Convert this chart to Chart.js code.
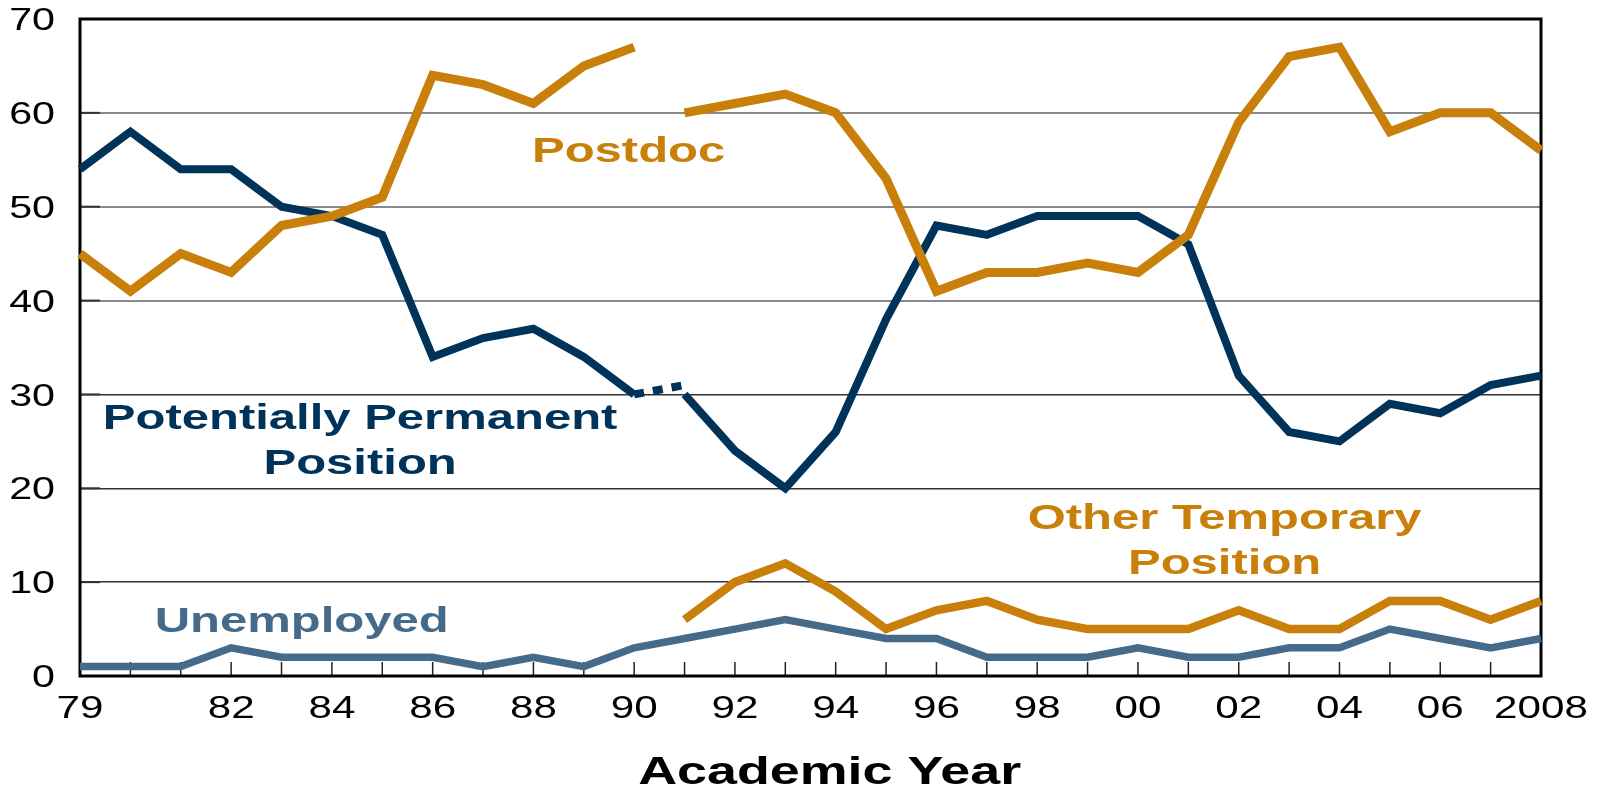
<!DOCTYPE html>
<html>
<head>
<meta charset="utf-8">
<script src="https://cdn.jsdelivr.net/npm/chart.js@4.4.1/dist/chart.umd.min.js"></script>
<style>
  html, body { margin: 0; padding: 0; background: #fff; }
  #wrap { width: 1599px; height: 790px; position: relative; }
</style>
</head>
<body>
<div id="wrap"><canvas id="careerChart"></canvas></div>
<script>
// academic years on the x axis
const years = [1979, 1980, 1981, 1982, 1983, 1984, 1985, 1986, 1987, 1988, 1989, 1990,
               1991, 1992, 1993, 1994, 1995, 1996, 1997, 1998, 1999, 2000, 2001, 2002,
               2003, 2004, 2005, 2006, 2007, 2008];
const xTickLabels = ['79', '', '', '82', '', '84', '', '86', '', '88', '', '90',
                     '', '92', '', '94', '', '96', '', '98', '', '00', '', '02',
                     '', '04', '', '06', '', '2008'];
const yTicks = [0, 10, 20, 30, 40, 50, 60, 70];

// percent of recent PhDs in each position
const postdoc   = [45, 41, 45, 43, 48, 49, 51, 64, 63, 61, 65, 67,
                   60, 61, 62, 60, 53, 41, 43, 43, 44, 43, 47, 59, 66, 67, 58, 60, 60, 56];
const permanent = [54, 58, 54, 54, 50, 49, 47, 34, 36, 37, 34, 30,
                   30, 24, 20, 26, 38, 48, 47, 49, 49, 49, 46, 32, 26, 25, 29, 28, 31, 32];
// dotted link across the 1990/1991 survey break
const permanentBridge = [null, null, null, null, null, null, null, null, null, null, null, 30,
                         31, null, null, null, null, null, null, null, null, null, null, null,
                         null, null, null, null, null, null];
const otherTemp = [null, null, null, null, null, null, null, null, null, null, null, null,
                   6, 10, 12, 9, 5, 7, 8, 6, 5, 5, 5, 7, 5, 5, 8, 8, 6, 8];
const unemployed = [1, 1, 1, 3, 2, 2, 2, 2, 1, 2, 1, 3,
                    4, 5, 6, 5, 4, 4, 2, 2, 2, 3, 2, 2, 3, 3, 5, 4, 3, 4];

const ORANGE = '#c8800a';
const NAVY = '#003359';
const SLATE = '#456a8a';
const BREAK_INDEX = 11; // segment 1990 -> 1991

const FONT = "'Liberation Sans', Arial, sans-serif";

// in-chart series captions, anchored in data units (year, percent)
const notes = [
    { lines: ['Postdoc'], year: 1989.89, value: 56.15, color: ORANGE },
    { lines: ['Potentially Permanent', 'Position'], year: 1984.56, value: 25.3, color: NAVY },
    { lines: ['Other Temporary', 'Position'], year: 2001.72, value: 14.6, color: ORANGE },
    { lines: ['Unemployed'], year: 1983.4, value: 6.07, color: SLATE }
];

// the original artwork is horizontally stretched, so text is drawn scaled in x.
// y is the vertical centre of the capitals.
function stretchText(ctx, text, x, y, size, weight, color, align, sx) {
    ctx.save();
    ctx.font = weight + ' ' + size + 'px ' + FONT;
    ctx.fillStyle = color;
    ctx.textAlign = align;
    ctx.textBaseline = 'alphabetic';
    ctx.translate(x, y + size * 0.716 / 2);
    ctx.scale(sx, 1);
    ctx.fillText(text, 0, 0);
    ctx.restore();
}

const extras = {
    id: 'extras',
    beforeDatasetsDraw(chart) {
        const { ctx, chartArea: a, scales } = chart;
        ctx.save();
        // inner tick marks on the year axis
        ctx.strokeStyle = '#222';
        ctx.lineWidth = 1.5;
        years.forEach((yr, i) => {
            const px = scales.x.getPixelForValue(i);
            ctx.beginPath();
            ctx.moveTo(px, a.bottom);
            ctx.lineTo(px, a.bottom - 14);
            ctx.stroke();
        });
        // short dark ticks on the left axis
        ctx.lineWidth = 2;
        ctx.strokeStyle = '#333';
        yTicks.forEach(v => {
            const py = scales.y.getPixelForValue(v);
            ctx.beginPath();
            ctx.moveTo(a.left, py);
            ctx.lineTo(a.left + 20, py);
            ctx.stroke();
        });
        // frame
        ctx.lineWidth = 3;
        ctx.strokeStyle = '#000';
        ctx.strokeRect(a.left, a.top, a.right - a.left, a.bottom - a.top);
        ctx.restore();
    },
    afterDraw(chart) {
        const { ctx, chartArea: a, scales } = chart;
        const xs = scales.x, ys = scales.y;

        yTicks.forEach(v => {
            stretchText(ctx, String(v), a.left - 25, ys.getPixelForValue(v),
                        31, 'normal', '#000', 'right', 1.33);
        });
        xTickLabels.forEach((lab, i) => {
            if (!lab) return;
            stretchText(ctx, lab, xs.getPixelForValue(i), a.bottom + 31,
                        31, 'normal', '#000', 'center', 1.36);
        });

        notes.forEach(n => {
            const cx = xs.getPixelForValue(n.year - years[0]);
            const cy = ys.getPixelForValue(n.value);
            const lh = 45;
            const top = cy - (n.lines.length - 1) * lh / 2;
            n.lines.forEach((line, k) => {
                stretchText(ctx, line, cx, top + k * lh, 35, 'bold', n.color, 'center', 1.4);
            });
        });

        stretchText(ctx, 'Academic Year', xs.getPixelForValue(1993.88 - years[0]), 770,
                    39, 'bold', '#000', 'center', 1.38);
    }
};

document.addEventListener('DOMContentLoaded', function() {
    const ctx = document.getElementById('careerChart');

    new Chart(ctx, {
        type: 'line',
        data: {
            labels: years.map(String),
            datasets: [
                {
                    label: 'Postdoc',
                    data: postdoc,
                    borderColor: ORANGE,
                    borderWidth: 9,
                    segment: {
                        borderColor: c => c.p0DataIndex === BREAK_INDEX ? 'transparent' : ORANGE
                    }
                },
                {
                    label: 'Other Temporary Position',
                    data: otherTemp,
                    borderColor: ORANGE,
                    borderWidth: 8.5
                },
                {
                    label: 'Potentially Permanent Position',
                    data: permanent,
                    borderColor: NAVY,
                    borderWidth: 8,
                    segment: {
                        borderColor: c => c.p0DataIndex === BREAK_INDEX ? 'transparent' : NAVY
                    }
                },
                {
                    label: 'bridge',
                    data: permanentBridge,
                    borderColor: NAVY,
                    borderWidth: 8,
                    borderDash: [10, 9]
                },
                {
                    label: 'Unemployed',
                    data: unemployed,
                    borderColor: SLATE,
                    borderWidth: 7.5
                }
            ]
        },
        options: {
            responsive: true,
            maintainAspectRatio: false,
            animation: false,
            spanGaps: false,
            layout: { padding: { left: 0, top: 19, right: 58, bottom: 0 } },
            elements: {
                point: { radius: 0, hoverRadius: 0 },
                line: { tension: 0, borderJoinStyle: 'miter', borderCapStyle: 'butt', fill: false }
            },
            plugins: {
                legend: { display: false },
                tooltip: { enabled: false }
            },
            scales: {
                x: {
                    type: 'category',
                    offset: false,
                    grid: { display: false },
                    border: { display: false },
                    ticks: { display: false, autoSkip: false },
                    afterFit: s => { s.height = 114; }
                },
                y: {
                    min: 0,
                    max: 70,
                    ticks: { display: false, stepSize: 10 },
                    border: { display: false },
                    grid: {
                        drawTicks: false,
                        color: c => (c.tick.value === 0 || c.tick.value === 70) ? 'transparent'
                                    : (c.tick.value >= 40 ? '#8a8a8a' : '#333'),
                        lineWidth: c => c.tick.value >= 40 ? 2 : 1.5
                    },
                    afterFit: s => { s.width = 80; }
                }
            }
        },
        plugins: [extras]
    });
});
</script>
</body>
</html>
